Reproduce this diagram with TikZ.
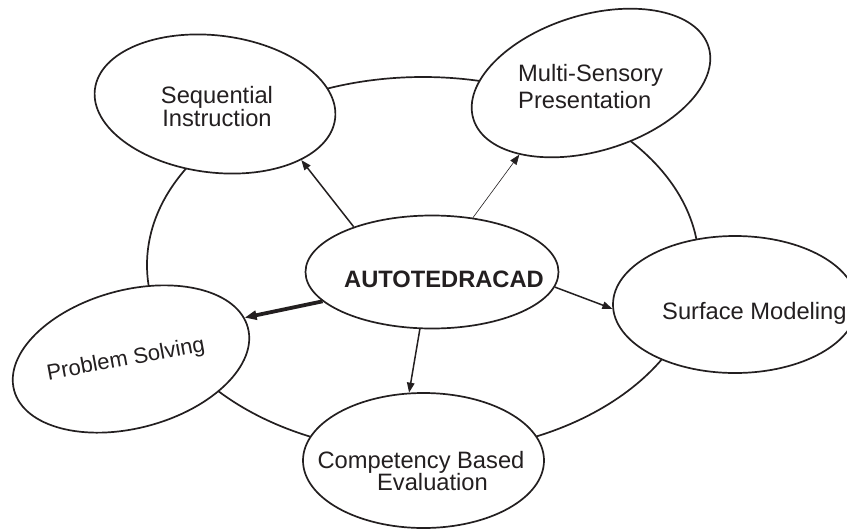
\documentclass[tikz,border=0pt]{standalone}
\usepackage{fontspec}
\setmainfont{Liberation Sans}
\usetikzlibrary{shapes.geometric,arrows.meta}
\definecolor{ink}{RGB}{35,31,32}
\tikzset{
  bub/.style={draw=ink, line width=1.7pt, fill=white, ellipse, inner sep=0pt},
  lbl/.style={text=ink, font=\fontsize{23.7}{24}\selectfont, inner sep=0pt, anchor=base},
  conn/.style={draw=ink, line width=1.5pt, -{Triangle[length=10pt,width=7.5pt]}},
}
\begin{document}
\begin{tikzpicture}[x=1pt,y=-1pt]
\useasboundingbox (0,0) rectangle (847,531);
\fill[white] (0,0) rectangle (847,531);
% outer ring
\draw[ink, line width=1.7pt] (423,265) ellipse [x radius=276pt, y radius=188pt];
% bubbles
\node[bub, minimum width=242pt, minimum height=137pt, rotate=-7] (seq) at (215,104) {};
\node[bub, minimum width=246pt, minimum height=136pt, rotate=17] (msp) at (591,83) {};
\node[bub, minimum width=253pt, minimum height=113pt] (auto) at (432,272) {};
\node[bub, minimum width=244pt, minimum height=137pt] (surf) at (735,304.5) {};
\node[bub, minimum width=242pt, minimum height=138pt, rotate=15] (prob) at (131,359) {};
\node[bub, minimum width=241pt, minimum height=135pt] (comp) at (423.5,460.5) {};
% connectors
\draw[conn] (auto.150.6) -- (seq.-26);
\draw[conn, line width=0.6pt] (auto.53.3) -- (msp.208.8);
\draw[conn, line width=3.8pt, -{Triangle[length=12pt,width=9pt]}] (auto.195.7) -- (prob.5.6);
\draw[conn] (auto.-7.3) -- (surf.182.6);
\draw[conn] (auto.258.9) -- (comp.102.9);
% labels
\node[lbl] (tseq1) at (217,103.3) {Sequential};
\node[lbl] (tseq2) at (217,126.7) {Instruction};
\node[lbl, anchor=base west] (tmsp1) at (518,81.7) {Multi-Sensory};
\node[lbl, anchor=base west] (tmsp2) at (518,108.3) {Presentation};
\node[lbl, font=\fontsize{23.7}{24}\selectfont\bfseries] (tauto) at (444,287) {AUTOTEDRACAD};
\node[lbl, anchor=base west] (tsurf) at (662,319) {Surface Modeling};
\node[lbl] (tcomp1) at (421,468) {Competency Based};
\node[lbl] (tcomp2) at (432.5,490) {Evaluation};
\node[lbl, font=\fontsize{22}{24}\selectfont, rotate=10.5] (tprob) at (127,365.5) {Problem Solving};
\end{tikzpicture}
\end{document}
